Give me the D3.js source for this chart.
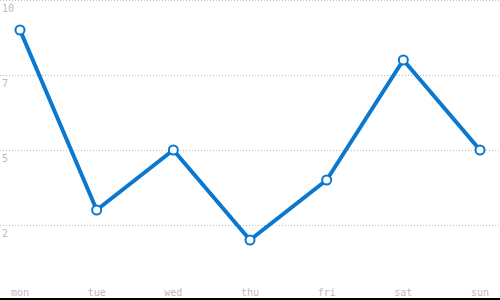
<!DOCTYPE html>
<html>
<head>
<meta charset="utf-8">
<script src="https://cdn.jsdelivr.net/npm/d3@7"></script>
<style>
    body { margin: 0; background: #fff; }
    .chart { width: 500px; height: 300px; }
    text { font-family: 'DejaVu Sans Mono', monospace; font-size: 10px; fill: #bbb; }
</style>
</head>
<body>
<div class="chart"></div>
<script>
const days = ['mon', 'tue', 'wed', 'thu', 'fri', 'sat', 'sun'];
const values = [9, 3, 5, 2, 4, 8, 5];
const yTicks = [2.5, 5, 7.5, 10];
const yTickLabels = ['2', '5', '7', '10'];

const width = 500;
const height = 300;

const svg = d3.select('.chart').append('svg')
    .attr('width', width)
    .attr('height', height);

const x = d3.scalePoint().domain(days).range([20, 480]);
const y = d3.scaleLinear().domain([0, 10]).range([height, 0]);

// dotted grid lines
svg.append('g').selectAll('line')
    .data(yTicks)
    .enter().append('line')
    .attr('x1', 0)
    .attr('x2', width)
    .attr('y1', function (d) { return Math.max(0.5, Math.round(y(d)) + 0.5); })
    .attr('y2', function (d) { return Math.max(0.5, Math.round(y(d)) + 0.5); })
    .attr('stroke', '#bbb')
    .attr('stroke-dasharray', '1,2');

svg.append('g').selectAll('text')
    .data(yTicks)
    .enter().append('text')
    .attr('x', 2)
    .attr('y', function (d) { return y(d) + 12; })
    .text(function (d, i) { return yTickLabels[i]; });

// bottom axis line
svg.append('line')
    .attr('x1', 0)
    .attr('x2', width)
    .attr('y1', 299)
    .attr('y2', 299)
    .attr('stroke', '#000')
    .attr('stroke-width', 2);

svg.append('g').selectAll('text')
    .data(days)
    .enter().append('text')
    .attr('x', function (d) { return x(d); })
    .attr('y', 296)
    .attr('text-anchor', 'middle')
    .text(function (d) { return d; });

const line = d3.line()
    .x(function (d, i) { return x(days[i]); })
    .y(function (d) { return y(d); });

svg.append('path')
    .datum(values)
    .attr('fill', 'none')
    .attr('stroke', '#0b78d0')
    .attr('stroke-width', 4)
    .attr('stroke-linejoin', 'round')
    .attr('d', line);

svg.append('g').selectAll('circle')
    .data(values)
    .enter().append('circle')
    .attr('cx', function (d, i) { return x(days[i]); })
    .attr('cy', function (d) { return y(d); })
    .attr('r', 4.5)
    .attr('fill', '#fff')
    .attr('stroke', '#0b78d0')
    .attr('stroke-width', 2);
</script>
</body>
</html>
